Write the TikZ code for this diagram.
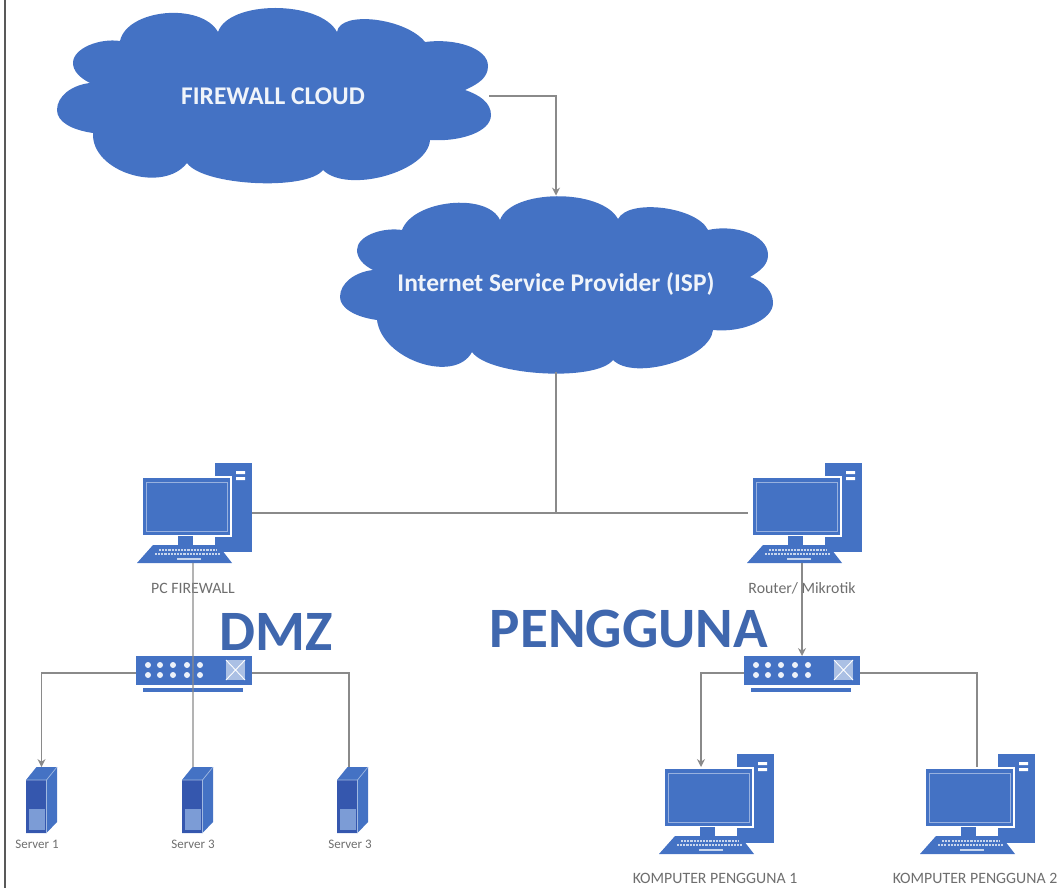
\documentclass[tikz,border=0pt]{standalone}
\usepackage{fontspec}
\usetikzlibrary{arrows.meta}
\setmainfont{Carlito}
\definecolor{netblue}{HTML}{4472C4}
\definecolor{titleblue}{HTML}{3F67AE}
\definecolor{serverblue}{HTML}{3557AE}
\definecolor{wiregray}{HTML}{8A8A8A}
\definecolor{labelgray}{HTML}{6E6E6E}
\tikzset{
	wire/.style={draw=wiregray, line width=0.75pt},
	hub/.style={inner sep=0pt, outer sep=0pt},
	cloudtext/.style={hub, minimum width=8.66cm, minimum height=3.54cm, text=white!92!netblue, font=\bfseries\fontsize{14.5}{16}\selectfont},
	caption/.style={text=labelgray, font=\fontsize{9}{10}\selectfont},
	smallcaption/.style={text=labelgray, font=\fontsize{7.4}{9}\selectfont},
	zonetitle/.style={text=titleblue, font=\bfseries\fontsize{32.5}{35}\selectfont},
	pcicon/.pic={
		\node[hub, minimum width=2.28cm, minimum height=2cm] (-box) at (0,0) {};
		\fill[netblue] (20,-50) rectangle (57,39);
		\fill[white] (41,-42) rectangle (50,-39) (41,-36) rectangle (50,-33);
		\fill[white] (-2,23) rectangle (20,34);
		\filldraw[fill=netblue, draw=white, line width=0.6pt] (-53,-36) rectangle (36,23);
		\draw[white!45!netblue, line width=0.5pt] (-49,-31) rectangle (32,18);
		\fill[netblue] (-17,23) rectangle (-2,34);
		\fill[netblue] (-42,32) -- (23,32) -- (37,50) -- (-58,50) -- cycle;
		\draw[white!70!netblue, line width=1.2pt, dash pattern=on 1.2pt off 0.6pt] (-36,37) -- (22,37);
		\draw[white!70!netblue, line width=1.2pt, dash pattern=on 1.2pt off 0.6pt] (-40,41) -- (26,41);
		\draw[white!70!netblue, line width=1pt] (-18,46) -- (6,46);
	},
	switchicon/.pic={
		\node[hub, minimum width=2.32cm, minimum height=0.68cm] (-box) at (0,0) {};
		\fill[netblue] (-58,-17) rectangle (58,12);
		\fill[netblue] (-51,15) rectangle (49,19);
		\foreach \ledx in {-46,-34,-21,-7,6} {
			\fill[white!90!netblue] (\ledx,-8) circle (0.06cm);
			\fill[white!90!netblue] (\ledx,2) circle (0.06cm);
		}
		\fill[white!55!netblue] (32,-13) rectangle (51,7);
		\draw[white, line width=0.5pt] (32,-13) -- (51,7) (32,7) -- (51,-13);
	},
	servericon/.pic={
		\node[hub, minimum width=0.62cm, minimum height=1.32cm] (-box) at (0,0) {};
		\fill[netblue] (-15.5,-20) -- (-5,-33) -- (15.5,-33) -- (15.5,22) -- (5,33) -- (-15.5,33) -- cycle;
		\fill[serverblue] (-15.5,-20) -- (5,-20) -- (5,33) -- (-15.5,33) -- cycle;
		\fill[white!30!netblue] (-13,9) rectangle (3,30);
		\draw[white!50!netblue, line width=0.4pt] (-15.5,-20) -- (5,-20) -- (15.5,-33) (5,-20) -- (5,33);
	},
}
\begin{document}
\begin{tikzpicture}[>={Stealth[length=4.5pt,width=4.5pt]}, x=0.02cm, y=-0.02cm]
	\useasboundingbox (0,0) rectangle (1061,888);
	\draw[draw=black!65, line width=1.1pt] (5,0) -- (5,888);

	\fill[netblue] (120,41) .. controls (127,9) and (201,2) .. (218,32)
		.. controls (229,0) and (320,0) .. (337,32)
		.. controls (340,10) and (406,18) .. (425,42)
		.. controls (455,38) and (488,48) .. (488,66)
		.. controls (488,78) and (478,84) .. (465,90)
		.. controls (480,95) and (491,103) .. (491,115)
		.. controls (491,132) and (460,142) .. (430,140)
		.. controls (428,172) and (347,194) .. (323,170)
		.. controls (307,191) and (203,186) .. (187,163)
		.. controls (163,194) and (91,172) .. (93,133)
		.. controls (72,130) and (57,122) .. (57,110)
		.. controls (57,96) and (72,85) .. (90,83)
		.. controls (80,78) and (73,71) .. (73,63)
		.. controls (73,48) and (100,38) .. (120,41) -- cycle;
	\fill[netblue] (402,230) .. controls (413,200) and (487,192) .. (500,220)
		.. controls (511,189) and (601,188) .. (618,219)
		.. controls (629,198) and (697,207) .. (708,230)
		.. controls (735,224) and (768,235) .. (768,255)
		.. controls (768,265) and (760,271) .. (750,277)
		.. controls (765,282) and (773,292) .. (773,303)
		.. controls (773,320) and (742,333) .. (713,330)
		.. controls (710,359) and (634,381) .. (613,360)
		.. controls (596,382) and (489,376) .. (472,352)
		.. controls (455,384) and (382,360) .. (377,320)
		.. controls (355,317) and (340,308) .. (340,297)
		.. controls (340,283) and (355,272) .. (373,270)
		.. controls (363,265) and (357,258) .. (357,250)
		.. controls (357,236) and (382,227) .. (402,230) -- cycle;

	\draw (273,96) node[cloudtext] (fwcloud) {FIREWALL CLOUD};
	\draw (556,284) node[cloudtext] (ispcloud) {Internet Service Provider (ISP)};

	\pic (pcfw) at (195,513) {pcicon};
	\pic (router) at (805,513) {pcicon};
	\pic (komp1) at (717,804) {pcicon};
	\pic (komp2) at (978,804) {pcicon};
	\pic (sw1) at (194,673) {switchicon};
	\pic (sw2) at (802,673) {switchicon};
	\pic (srv1) at (41.5,800) {servericon};
	\pic (srv2) at (197.5,800) {servericon};
	\pic (srv3) at (352.5,800) {servericon};

	\draw (193,588) node[caption] (pcfwtext) {PC FIREWALL};
	\draw (802,588) node[caption] (routertext) {Router/ Mikrotik};
	\draw (37,844) node[smallcaption] (srv1text) {Server 1};
	\draw (193,844) node[smallcaption] (srv2text) {Server 3};
	\draw (350,844) node[smallcaption] (srv3text) {Server 3};
	\draw (715,878) node[caption] (komp1text) {KOMPUTER PENGGUNA 1};
	\draw (975,878) node[caption] (komp2text) {KOMPUTER PENGGUNA 2};
	\draw (276,632) node[zonetitle] (dmztitle) {DMZ};
	\draw (629,629) node[zonetitle] (userstitle) {PENGGUNA};

	\draw[wire, ->] (fwcloud.east) -| (ispcloud.north);
	\draw[wire] (ispcloud.south) -- (ispcloud.south |- pcfw-box.east);
	\draw[wire] (pcfw-box.east) -- (router-box.west);

	\draw[wire] ([xshift=-0.04cm]pcfw-box.south) -- ([xshift=-0.09cm]srv2-box.north);
	\draw[wire, ->] (sw1-box.west) -| (srv1-box.north);
	\draw[wire] (sw1-box.east) -| ([xshift=-0.07cm]srv3-box.north);

	\draw[wire, ->] (sw2-box.north |- router-box.south) -- (sw2-box.north);
	\draw[wire, ->] (sw2-box.west) -| ([shift={(-0.32cm,-0.26cm)}]komp1-box.north);
	\draw[wire] (sw2-box.east) -| ([shift={(-0.02cm,-0.26cm)}]komp2-box.north);
\end{tikzpicture}
\end{document}
